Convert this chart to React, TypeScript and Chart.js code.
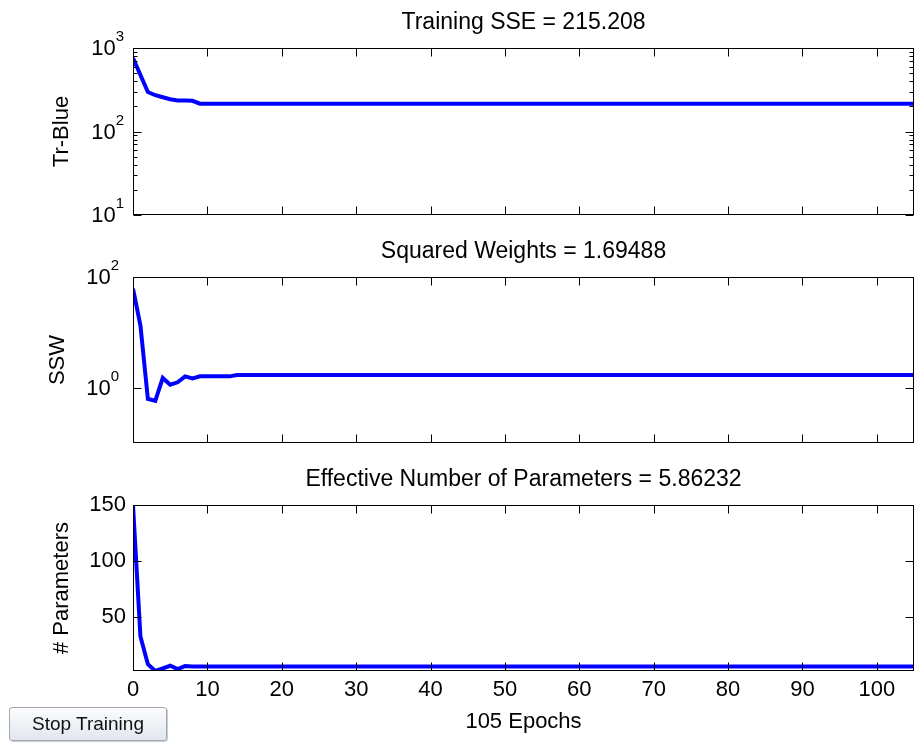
import React, { useEffect, useRef } from "react";
import { Chart, registerables } from "chart.js";

Chart.register(...registerables);

const FONT = "'Liberation Sans', Arial, Helvetica, sans-serif";

// Shared epoch axis
const EPOCH_MAX = 105;
const EPOCH_TICKS = [0, 10, 20, 30, 40, 50, 60, 70, 80, 90, 100];
const X_LABEL = "105 Epochs";

// Panel 1: training sum squared error (log scale)
const sseTitle = "Training SSE = 215.208";
const sseLabel = "Tr-Blue";
const sseEpochs = [0, 1, 2, 3, 4, 5, 6, 7, 8, 9, 105];
const sseValues = [758, 475, 297, 272, 257, 243, 235, 235, 233, 215.208, 215.208];
const sseMajor = [10, 100, 1000];
const sseMinor = [20, 30, 40, 50, 60, 70, 80, 90, 200, 300, 400, 500, 600, 700, 800, 900];
const sseLabelExps = [1, 2, 3];

// Panel 2: sum of squared weights (log scale)
const sswTitle = "Squared Weights = 1.69488";
const sswLabel = "SSW";
const sswEpochs = [0, 1, 2, 3, 4, 5, 6, 7, 8, 9, 13, 14, 105];
const sswValues = [61.4, 13.3, 0.624, 0.58, 1.5, 1.13, 1.25, 1.6, 1.47, 1.6, 1.6, 1.69488, 1.69488];
const sswMajor = [1, 100];
const sswLabelExps = [0, 2];

// Panel 3: effective number of parameters (linear scale)
const gammaTitle = "Effective Number of Parameters = 5.86232";
const gammaLabel = "# Parameters";
const gammaEpochs = [0, 1, 2, 3, 4, 5, 6, 7, 8, 105];
const gammaValues = [150, 32.6, 7.8, 1.8, 4.2, 6.5, 3.5, 6.2, 5.86232, 5.86232];
const gammaTicks = [50, 100, 150];

const LINE_COLOR = "#0000ff";

// Boxed axes with inward ticks, superscript log labels and a centred title
const matlabAxes = {
  id: "matlabAxes",
  afterDraw(chart: any, _args: any, opts: any) {
    const { ctx, chartArea: a, scales } = chart;
    const xs = scales.x;
    const ys = scales.y;
    ctx.save();
    ctx.strokeStyle = "#000";
    ctx.lineWidth = 1;
    const L = Math.round(a.left) + 0.5;
    const R = Math.round(a.right) - 0.5;
    const T = Math.round(a.top) + 0.5;
    const B = Math.round(a.bottom) - 0.5;
    ctx.strokeRect(L, T, R - L, B - T);
    ctx.beginPath();
    for (const v of opts.xTicks || []) {
      const px = Math.round(xs.getPixelForValue(v)) + 0.5;
      ctx.moveTo(px, B);
      ctx.lineTo(px, B - 8);
      ctx.moveTo(px, T);
      ctx.lineTo(px, T + 8);
    }
    for (const v of opts.yMajor || []) {
      const py = Math.round(ys.getPixelForValue(v)) + 0.5;
      ctx.moveTo(L, py);
      ctx.lineTo(L + 8, py);
      ctx.moveTo(R, py);
      ctx.lineTo(R - 8, py);
    }
    for (const v of opts.yMinor || []) {
      const py = Math.round(ys.getPixelForValue(v)) + 0.5;
      ctx.moveTo(L, py);
      ctx.lineTo(L + 4, py);
      ctx.moveTo(R, py);
      ctx.lineTo(R - 4, py);
    }
    ctx.stroke();

    ctx.fillStyle = "#000";
    if (opts.logExps) {
      const right = opts.labelRight;
      for (const e of opts.logExps) {
        const py = ys.getPixelForValue(Math.pow(10, e));
        ctx.font = `15px ${FONT}`;
        ctx.textAlign = "right";
        ctx.textBaseline = "middle";
        const expText = String(e);
        const expW = ctx.measureText(expText).width;
        ctx.fillText(expText, right, py - 11);
        ctx.font = `22px ${FONT}`;
        ctx.fillText("10", right - expW, py + 1);
      }
    }

    ctx.font = `23px ${FONT}`;
    ctx.textAlign = "center";
    ctx.textBaseline = "alphabetic";
    ctx.fillText(opts.title, (a.left + a.right) / 2, a.top - 19);
    ctx.restore();
  },
};

type PanelSpec = {
  top: number;
  height: number;
  padTop: number;
  padBottom: number;
  epochs: number[];
  values: number[];
  yType: "logarithmic" | "linear";
  yMin: number;
  yMax: number;
  yLabel: string;
  yLabelPad: number;
  title: string;
  yMajor: number[];
  yMinor?: number[];
  logExps?: number[];
  labelRight?: number;
  showX: boolean;
};

function Panel({ spec }: { spec: PanelSpec }) {
  const ref = useRef<HTMLCanvasElement | null>(null);
  useEffect(() => {
    if (!ref.current) return;
    const isLog = spec.yType === "logarithmic";
    const chart = new Chart(ref.current, {
      type: "line",
      data: {
        datasets: [
          {
            data: spec.epochs.map((e, i) => ({ x: e, y: spec.values[i] })),
            borderColor: LINE_COLOR,
            borderWidth: 4,
            pointRadius: 0,
            tension: 0,
            fill: false,
          },
        ],
      },
      options: {
        animation: false,
        responsive: false,
        devicePixelRatio: 1,
        layout: { padding: { left: 0, right: 9, top: spec.padTop, bottom: spec.padBottom } },
        plugins: {
          legend: { display: false },
          tooltip: { enabled: false },
          matlabAxes: {
            title: spec.title,
            xTicks: EPOCH_TICKS,
            yMajor: spec.yMajor,
            yMinor: spec.yMinor,
            logExps: spec.logExps,
            labelRight: spec.labelRight,
          },
        } as any,
        scales: {
          x: {
            type: "linear",
            min: 0,
            max: EPOCH_MAX,
            display: spec.showX,
            grid: { display: false, drawTicks: false },
            border: { display: false },
            ticks: {
              stepSize: 10,
              includeBounds: false,
              padding: 6,
              color: "#000",
              font: { size: 22, family: FONT },
              maxRotation: 0,
            },
            title: {
              display: spec.showX,
              text: X_LABEL,
              color: "#000",
              font: { size: 22, family: FONT },
              padding: { top: 0, bottom: 14 },
            },
            afterFit: (s: any) => {
              s.height = spec.showX ? 78 : 0;
            },
          },
          y: {
            type: spec.yType,
            min: spec.yMin,
            max: spec.yMax,
            grid: { display: false, drawTicks: false },
            border: { display: false },
            ticks: {
              display: !isLog,
              padding: 7,
              color: "#000",
              font: { size: 22, family: FONT },
            },
            afterBuildTicks: (s: any) => {
              if (!isLog) s.ticks = spec.yMajor.map((v) => ({ value: v }));
            },
            title: {
              display: true,
              text: spec.yLabel,
              color: "#000",
              font: { size: 22, family: FONT },
              padding: { top: spec.yLabelPad, bottom: 0 },
            },
            afterFit: (s: any) => {
              s.width = 133;
            },
          },
        },
      } as any,
      plugins: [matlabAxes as any],
    });
    return () => chart.destroy();
  }, [spec]);
  return (
    <canvas
      ref={ref}
      width={923}
      height={spec.height}
      style={{ position: "absolute", left: 0, top: spec.top, display: "block" }}
    />
  );
}

const panels: PanelSpec[] = [
  {
    top: 0,
    height: 230,
    padTop: 48,
    padBottom: 15,
    epochs: sseEpochs,
    values: sseValues,
    yType: "logarithmic",
    yMin: 10,
    yMax: 1000,
    yLabel: sseLabel,
    yLabelPad: 49,
    title: sseTitle,
    yMajor: sseMajor,
    yMinor: sseMinor,
    logExps: sseLabelExps,
    labelRight: 124,
    showX: false,
  },
  {
    top: 230,
    height: 230,
    padTop: 47,
    padBottom: 17,
    epochs: sswEpochs,
    values: sswValues,
    yType: "logarithmic",
    yMin: 0.1,
    yMax: 100,
    yLabel: sswLabel,
    yLabelPad: 45,
    title: sswTitle,
    yMajor: sswMajor,
    logExps: sswLabelExps,
    labelRight: 119,
    showX: false,
  },
  {
    top: 460,
    height: 289,
    padTop: 45,
    padBottom: 0,
    epochs: gammaEpochs,
    values: gammaValues,
    yType: "linear",
    yMin: 1.8,
    yMax: 150,
    yLabel: gammaLabel,
    yLabelPad: 49,
    title: gammaTitle,
    yMajor: gammaTicks,
    showX: true,
  },
];

export default function App() {
  return (
    <div
      style={{
        position: "absolute",
        left: 0,
        top: 0,
        width: 923,
        height: 749,
        background: "#fff",
        overflow: "hidden",
      }}
    >
      {panels.map((p, i) => (
        <Panel key={i} spec={p} />
      ))}
      <div
        style={{
          position: "absolute",
          left: 9,
          top: 707,
          width: 158,
          height: 34,
          boxSizing: "border-box",
          border: "1px solid #a3a8ae",
          borderRadius: 3,
          background: "linear-gradient(#fbfcfd, #e2e7ee)",
          boxShadow: "1px 1px 0 #c9cdd3",
          display: "flex",
          alignItems: "center",
          justifyContent: "center",
          fontFamily: FONT,
          fontSize: 19,
          color: "#111",
        }}
      >
        Stop Training
      </div>
    </div>
  );
}
